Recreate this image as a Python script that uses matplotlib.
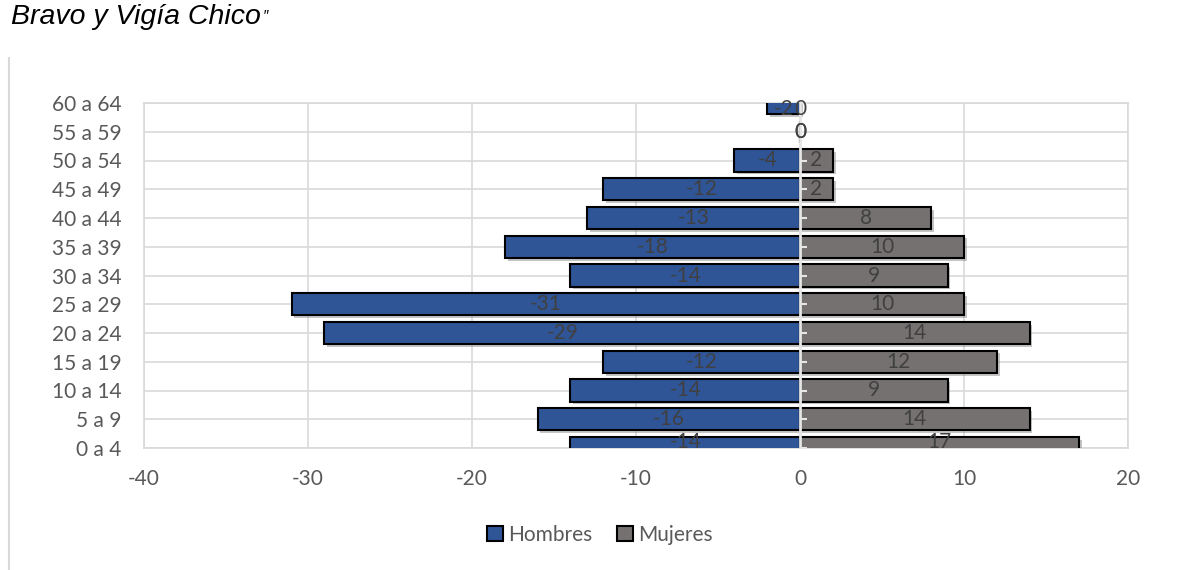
import matplotlib.pyplot as plt
import matplotlib.patheffects as pe
import numpy as np
from matplotlib.lines import Line2D

# Age groups from the bottom of the pyramid to the top.
age_groups = ["0 a 4", "5 a 9", "10 a 14", "15 a 19", "20 a 24", "25 a 29", "30 a 34",
              "35 a 39", "40 a 44", "45 a 49", "50 a 54", "55 a 59", "60 a 64"]
hombres = [-14, -16, -14, -12, -29, -31, -14, -18, -13, -12, -4, 0, -2]
mujeres = [17, 14, 9, 12, 14, 10, 9, 10, 8, 2, 2, 0, 0]
x_ticks = [-40, -30, -20, -10, 0, 10, 20]

BLUE = "#2F5597"
GRAY = "#767171"
GRID = "#D9D9D9"
TEXT = "#595959"
FS = 15

plt.rcParams["font.family"] = ["Lato", "DejaVu Sans"]

fig = plt.figure(figsize=(11.78, 5.70), dpi=100)
ax = fig.add_axes([144 / 1178, 1 - 448 / 570, (1128 - 144) / 1178, (448 - 103) / 570])

y = np.arange(len(age_groups))
shadow = [pe.SimplePatchShadow(offset=(2, -2), shadow_rgbFace="#7f7f7f", alpha=0.45), pe.Normal()]

bars_h = ax.barh(y, hombres, height=0.77, color=BLUE, edgecolor="black", linewidth=1.5,
                 label="Hombres", zorder=3)
bars_m = ax.barh(y, mujeres, height=0.77, color=GRAY, edgecolor="black", linewidth=1.5,
                 label="Mujeres", zorder=3)
for b in list(bars_h) + list(bars_m):
    b.set_path_effects(shadow)

for bars in (bars_h, bars_m):
    ax.bar_label(bars, label_type="center", fontsize=FS, color="#404040", zorder=6)

# central category axis with small ticks
ax.axvline(0, color="#E6E6E6", lw=2, zorder=5)
ax.plot(np.zeros(len(y)), y, linestyle="none", marker=1, markersize=5,
        color="#E6E6E6", markeredgewidth=1.5, zorder=5, clip_on=False)

ax.set_xlim(-40, 20)
ax.set_ylim(0, len(age_groups) - 1)
ax.set_xticks(x_ticks)
ax.set_xticklabels([str(v) for v in x_ticks])
ax.set_yticks(y)
ax.set_yticklabels(age_groups)
ax.tick_params(axis="both", length=0, labelsize=FS, colors=TEXT)
ax.tick_params(axis="x", pad=15)
ax.tick_params(axis="y", pad=16)
ax.grid(True, color=GRID, linewidth=1.2, zorder=0)
ax.set_axisbelow(True)
for s in ax.spines.values():
    s.set_color(GRID)
    s.set_linewidth(1.2)

leg = fig.legend(handles=[bars_h, bars_m], labels=["Hombres", "Mujeres"], loc="center",
                 bbox_to_anchor=(600 / 1178, 1 - 535 / 570), ncol=2, frameon=False,
                 fontsize=FS, handlelength=0.75, handleheight=0.75, handletextpad=0.25,
                 columnspacing=1.2)
for t in leg.get_texts():
    t.set_color(TEXT)
for h in leg.legend_handles:
    h.set_path_effects([])

# title fragment and page frame line
title = fig.text(11 / 1178, 1 - 24 / 570, "Bravo y Vigía Chico", fontsize=20.5, style="italic",
                 family=["Liberation Sans", "DejaVu Sans"], color="black", va="baseline")
fig.canvas.draw()
bb = title.get_window_extent()
fig.text(bb.x1 / 1178 + 2 / 1178, 1 - 20 / 570, "″", fontsize=11, style="italic",
         family=["Liberation Sans", "DejaVu Sans"], color="black", va="baseline")
fig.add_artist(Line2D([9 / 1178, 9 / 1178], [0, 1 - 58 / 570], color=GRID, lw=1.5))

fig.savefig("out.png", dpi=100)
